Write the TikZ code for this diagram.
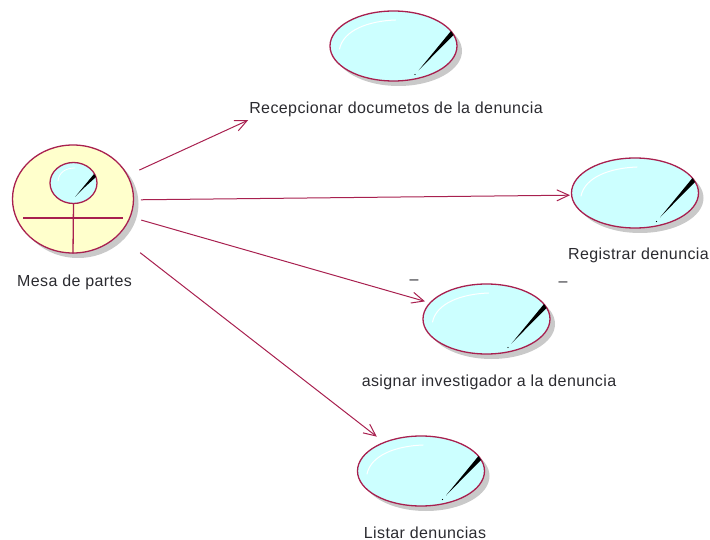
\documentclass[tikz,border=0pt]{standalone}
\usepackage{fontspec}
\setmainfont{Liberation Sans}[LetterSpace=2.5]
\usetikzlibrary{shapes.geometric,shadows,arrows.meta}
\definecolor{rosered}{HTML}{A8204F}
\definecolor{caseblue}{HTML}{CCFFFF}
\definecolor{actoryellow}{HTML}{FFFFCC}
\definecolor{shadowgray}{HTML}{C9C9C9}
\definecolor{labelgray}{HTML}{2B2B30}
\tikzset{
  x=1pt,y=-1pt,
  blob/.style={ellipse,draw=rosered,line width=1.3pt,inner sep=0pt,
    drop shadow={shadow xshift=5pt,shadow yshift=-5pt,fill=shadowgray,opacity=1}},
  usecase/.style={blob,fill=caseblue,minimum width=127pt,minimum height=70pt},
  actorbody/.style={blob,fill=actoryellow,minimum width=121pt,minimum height=108pt},
  actorhead/.style={ellipse,draw=rosered,line width=1.3pt,inner sep=0pt,fill=caseblue,minimum width=47pt,minimum height=41pt},
  caption/.style={inner sep=0pt,anchor=base,text=labelgray,font=\fontsize{16}{18}\selectfont},
  link/.style={draw=rosered,line width=1pt,-{Straight Barb[length=12pt,width=11pt,line width=1pt]}},
  stroke/.style={draw=rosered,line width=1.3pt},
  shine/.style={draw=white,line width=1pt,line cap=round}
}
\newcommand{\needle}[2]{%
  \fill[black] (#1+57.5,#2-15) -- (#1+60,#2-11) -- (#1+50,#2-1) -- (#1+25,#2+24.5) -- cycle;
  \fill[black] (#1+21.5,#2+28.5) circle (.7);
  \draw[shine] (#1-54,#2+3) .. controls (#1-50,#2-16) and (#1-25,#2-25) .. (#1+2,#2-26);
}
\begin{document}
\begin{tikzpicture}
\useasboundingbox (0,0) rectangle (710,540);
\node[actorbody] (actor) at (73,199) {};
\node[actorhead] (head) at (73.5,183) {};
\fill[black] (94,174) -- (96,177) -- (85,187) -- (75,197) -- cycle;
\draw[white,line width=.8pt,line cap=round] (58,181) .. controls (59,172) and (66,168) .. (75,168);
\draw[stroke] (head.south) -- (actor.south);
\coordinate (armL) at (23,218);
\coordinate (armR) at (123,218);
\draw[stroke] (armL) -- (armR);

\node[usecase] (uc1) at (393.5,46) {};
\node[usecase] (uc2) at (635,193) {};
\node[usecase] (uc3) at (486.5,319) {};
\node[usecase] (uc4) at (421,471) {};
\needle{393.5}{46}
\needle{635}{193}
\needle{486.5}{319}
\needle{421}{471}

\coordinate (hub) at ([yshift=-1.5pt]actor.center);
\path[link,shorten <=73pt,shorten >=160pt] (hub) -- ([yshift=-7.5pt]uc1.center);
\path[link,shorten <=68pt,shorten >=65pt] (hub) -- ([yshift=-1.5pt]uc2.center);
\path[link,shorten <=71pt,shorten >=64pt] (hub) -- (uc3.center);
\path[link,shorten <=85pt,shorten >=56pt] (hub) -- (uc4.center);

\node[caption] (l0) at (74.5,286.5) {Mesa de partes};
\node[caption] (l1) at (396,113.5) {Recepcionar documetos de la denuncia};
\node[caption] (l2) at (638.5,260) {Registrar denuncia};
\node[caption] (l3) at (489,386.5) {asignar investigador a la denuncia};
\node[caption] (l4) at (425,538) {Listar denuncias};
\node[caption] (d1) at (414,284) {–};
\node[caption] (d2) at (563,287) {–};
\end{tikzpicture}
\end{document}
